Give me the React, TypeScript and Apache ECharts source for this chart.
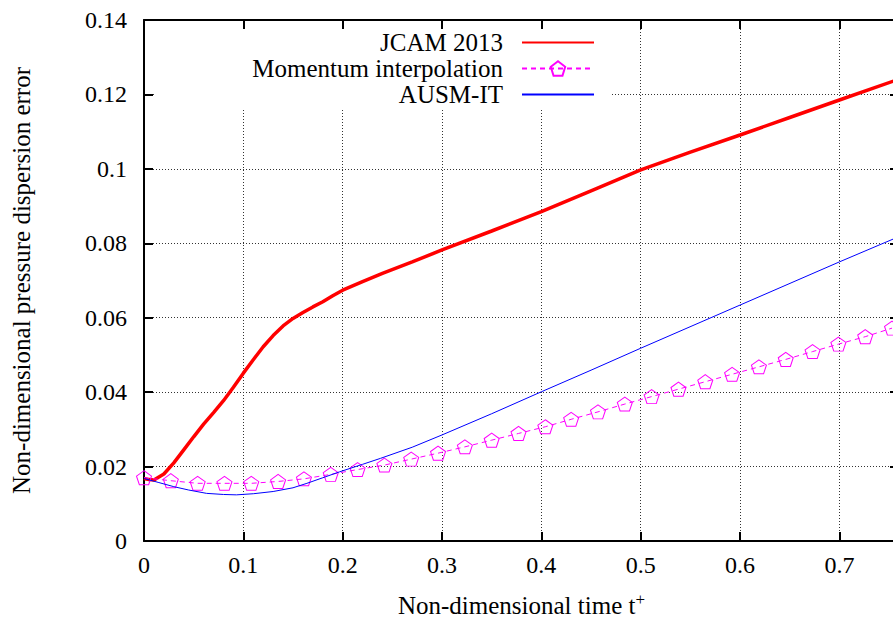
import React, { useEffect, useRef } from "react";
import * as echarts from "echarts";

// JCAM 2013 (red, thick)
const jcamT = [0, 0.005, 0.01, 0.02, 0.03, 0.04, 0.05, 0.06, 0.07, 0.08, 0.09, 0.1, 0.11, 0.12, 0.13, 0.14, 0.15, 0.16, 0.17, 0.18, 0.19, 0.2, 0.22, 0.24, 0.27, 0.3, 0.35, 0.4, 0.45, 0.5, 0.55, 0.6, 0.65, 0.7, 0.76];
const jcamV = [0.0168, 0.0165, 0.0164, 0.018, 0.021, 0.0245, 0.028, 0.0314, 0.0345, 0.0377, 0.0413, 0.0451, 0.0487, 0.0522, 0.0552, 0.0578, 0.0598, 0.0614, 0.0629, 0.0643, 0.0659, 0.0674, 0.0697, 0.0719, 0.075, 0.0782, 0.0833, 0.0885, 0.0941, 0.0997, 0.1045, 0.1091, 0.1138, 0.1185, 0.1241];

// Momentum interpolation (magenta, dashed with pentagons)
const momT = [0, 0.027, 0.054, 0.081, 0.108, 0.135, 0.161, 0.188, 0.215, 0.242, 0.269, 0.296, 0.323, 0.35, 0.377, 0.404, 0.43, 0.457, 0.484, 0.511, 0.538, 0.565, 0.592, 0.619, 0.646, 0.673, 0.699, 0.726, 0.753];
const momV = [0.0170, 0.0162, 0.0155, 0.0155, 0.0155, 0.0160, 0.0167, 0.0179, 0.0192, 0.0204, 0.0220, 0.0236, 0.0253, 0.0271, 0.0289, 0.0307, 0.0327, 0.0347, 0.0368, 0.0388, 0.0408, 0.0428, 0.0448, 0.0468, 0.0488, 0.0509, 0.0529, 0.0549, 0.0572];

// AUSM-IT (blue, thin)
const ausmT = [0, 0.015, 0.03, 0.045, 0.063, 0.08, 0.093, 0.11, 0.13, 0.15, 0.164, 0.18, 0.197, 0.22, 0.238, 0.27, 0.3, 0.35, 0.4, 0.45, 0.5, 0.6, 0.7, 0.76];
const ausmV = [0.0168, 0.0157, 0.0146, 0.0137, 0.0128, 0.0125, 0.0124, 0.0127, 0.0133, 0.0143, 0.0155, 0.017, 0.0186, 0.0206, 0.0222, 0.0252, 0.0285, 0.0342, 0.0401, 0.0459, 0.0518, 0.0634, 0.075, 0.0818];

const seriesNames = ["JCAM 2013", "Momentum interpolation", "AUSM-IT"];
const xTitle = "Non-dimensional time t";
const yTitle = "Non-dimensional pressure dispersion error";

const FONT = "'Liberation Serif', 'Times New Roman', serif";
const PENTAGON = "path://M0,-1 L0.951,-0.309 L0.588,0.809 L-0.588,0.809 L-0.951,-0.309 Z";

const zip = (a: number[], b: number[]) => a.map((t, i) => [t, b[i]]);

export default function App() {
  const ref = useRef<HTMLDivElement>(null);
  useEffect(() => {
    if (!ref.current) return;
    const chart = echarts.init(ref.current, null, { renderer: "svg" });
    const frameLine = { show: true, onZero: false, lineStyle: { color: "#000", width: 2 } };
    const frameTick = { show: true, inside: true, length: 9, lineStyle: { color: "#000", width: 2 } };
    const grid = { show: true, lineStyle: { color: "#333", width: 1, type: [1, 2] } };
    const legendCommon = {
      orient: "vertical",
      align: "right",
      right: 298,
      itemWidth: 72,
      itemHeight: 18,
      padding: 0,
      selectedMode: false,
      z: 4,
      textStyle: { fontFamily: FONT, fontSize: 25, color: "#000", lineHeight: 18, padding: [0, 14, 0, 0] },
    };
    const noMarker = { color: "rgba(0,0,0,0)", borderWidth: 0 };
    chart.setOption({
      animation: false,
      backgroundColor: "#fff",
      textStyle: { fontFamily: FONT, color: "#000" },
      grid: { left: 144, top: 20, right: -6, bottom: 85, containLabel: false, outerBoundsMode: "none" },
      xAxis: [
        {
          type: "value", position: "bottom", min: 0, max: 0.76, interval: 0.1,
          axisLine: frameLine, axisTick: frameTick,
          axisLabel: { fontFamily: FONT, fontSize: 24, color: "#000", margin: 12, showMaxLabel: false },
          splitLine: grid,
          name: `{m|${xTitle}}{s|+}`, nameLocation: "middle", nameGap: 50,
          nameTextStyle: {
            rich: {
              m: { fontFamily: FONT, fontSize: 25, color: "#000", lineHeight: 28 },
              s: { fontFamily: FONT, fontSize: 17, color: "#000", lineHeight: 16, verticalAlign: "top" },
            },
          },
        },
        {
          type: "value", position: "top", min: 0, max: 0.76, interval: 0.1,
          axisLine: frameLine, axisTick: frameTick, axisLabel: { show: false }, splitLine: { show: false },
        },
      ],
      yAxis: [
        {
          type: "value", position: "left", min: 0, max: 0.14, interval: 0.02,
          axisLine: frameLine, axisTick: frameTick,
          axisLabel: { fontFamily: FONT, fontSize: 24, color: "#000", margin: 17 },
          splitLine: grid,
          name: yTitle, nameLocation: "middle", nameGap: 110,
          nameTextStyle: { fontFamily: FONT, fontSize: 25, color: "#000" },
        },
        {
          type: "value", position: "right", min: 0, max: 0.14, interval: 0.02,
          axisLine: frameLine, axisTick: frameTick, axisLabel: { show: false }, splitLine: { show: false },
        },
      ],
      graphic: [
        { type: "rect", silent: true, z: 1, shape: { x: 154, y: 29, width: 456, height: 79 }, style: { fill: "#fff" } },
      ],
      legend: [
        { ...legendCommon, data: [seriesNames[0]], top: 30, itemStyle: noMarker },
        { ...legendCommon, data: [seriesNames[1]], top: 56 },
        { ...legendCommon, data: [seriesNames[2]], top: 82, itemStyle: noMarker },
      ],
      series: [
        {
          name: seriesNames[0], type: "line", data: zip(jcamT, jcamV), symbol: "none", z: 2,
          lineStyle: { color: "#ff0000", width: 3.5 }, itemStyle: { color: "#ff0000" },
        },
        {
          name: seriesNames[1], type: "line", data: zip(momT, momV), symbol: PENTAGON, symbolSize: [15, 14],
          showSymbol: true, z: 3,
          lineStyle: { color: "#ff00ff", width: 1, type: [5, 4] },
          itemStyle: { color: "rgba(255,255,255,0)", borderColor: "#ff00ff", borderWidth: 1 },
        },
        {
          name: seriesNames[2], type: "line", data: zip(ausmT, ausmV), symbol: "none", z: 4,
          lineStyle: { color: "#0000ff", width: 1 }, itemStyle: { color: "#0000ff" },
        },
      ],
    });
    return () => chart.dispose();
  }, []);
  return <div ref={ref} style={{ position: "fixed", left: 0, top: 0, width: 893, height: 626 }} />;
}
